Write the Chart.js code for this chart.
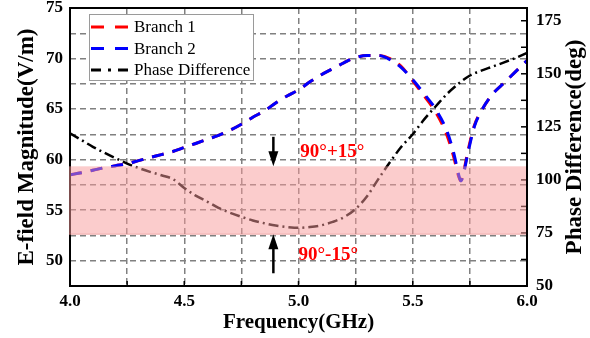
<!DOCTYPE html>
<html>
<head>
<meta charset="utf-8">
<script src="https://cdn.jsdelivr.net/npm/chart.js@4.4.0/dist/chart.umd.min.js"></script>
<style>
  html, body { margin: 0; padding: 0; background: #fff; }
</style>
</head>
<body>
<canvas id="c" width="590" height="338"></canvas>
<script>
// E-field data (left axis)
const freqE = [4.00, 4.05, 4.10, 4.15, 4.20, 4.25, 4.30, 4.35, 4.40, 4.45, 4.50, 4.55, 4.60, 4.65, 4.70,
  4.75, 4.80, 4.85, 4.90, 4.95, 5.00, 5.05, 5.10, 5.15, 5.20, 5.25, 5.30, 5.35, 5.40, 5.45, 5.50, 5.55,
  5.60, 5.65, 5.68, 5.70, 5.71, 5.72, 5.74, 5.77, 5.80, 5.85, 5.90, 5.95, 6.00];
const branch1 = [58.5, 58.7, 58.95, 59.2, 59.4, 59.6, 59.9, 60.2, 60.5, 60.8, 61.2, 61.6, 62.0, 62.4, 62.9,
  63.5, 64.2, 64.8, 65.6, 66.3, 66.9, 67.7, 68.4, 69.0, 69.6, 70.1, 70.3, 70.3, 70.0, 69.2, 67.8, 66.3,
  64.7, 62.4, 60.2, 58.4, 57.9, 58.5, 60.7, 63.4, 64.8, 66.5, 67.6, 68.7, 69.8];
const branch2 = [58.5, 58.7, 58.95, 59.2, 59.4, 59.6, 59.9, 60.2, 60.5, 60.8, 61.2, 61.6, 62.0, 62.4, 62.9,
  63.5, 64.2, 64.8, 65.6, 66.3, 66.9, 67.7, 68.4, 69.0, 69.6, 70.1, 70.3, 70.3, 69.9, 69.1, 67.9, 66.5,
  65.0, 62.8, 60.6, 58.6, 57.9, 58.4, 60.5, 63.3, 64.8, 66.5, 67.6, 68.7, 69.8];

// phase difference (right axis)
const freqP = [4.00, 4.05, 4.10, 4.15, 4.20, 4.25, 4.30, 4.35, 4.40, 4.45, 4.50, 4.55, 4.60, 4.65, 4.70,
  4.75, 4.80, 4.85, 4.90, 4.95, 5.00, 5.05, 5.10, 5.15, 5.20, 5.25, 5.30, 5.35, 5.40, 5.45, 5.50, 5.55,
  5.60, 5.65, 5.70, 5.75, 5.80, 5.85, 5.90, 5.95, 6.00];
const phase = [122.0, 118.8, 115.6, 112.8, 110.2, 107.7, 105.6, 103.8, 102.2, 100.4, 96.2, 92.6, 89.8, 86.8, 84.5,
  82.6, 80.9, 79.6, 78.5, 77.8, 77.4, 77.8, 78.6, 80.2, 82.5, 86.3, 92.3, 100.5, 108.3, 115.6, 121.5, 128.5,
  134.6, 140.5, 145.3, 149.2, 151.5, 153.4, 155.4, 157.5, 159.8];

// shaded 90 +/- 15 deg region as drawn, and the labels that mark it
const bandPhase = [74.4, 106.4];
const bandLabels = ['90°+15°', '90°-15°'];

const serif = 'Liberation Serif, Times New Roman, serif';
const toPts = (xs, ys) => xs.map((f, i) => ({x: f, y: ys[i]}));

const overlay = {
    id: 'overlay',
    afterDatasetsDraw(chart) {
        const {ctx, chartArea: a, scales} = chart;
        const x = scales.x, y2 = scales.y2;
        const line = (x1, y1, x2, y2_) => {
            ctx.beginPath(); ctx.moveTo(x1, y1); ctx.lineTo(x2, y2_); ctx.stroke();
        };
        ctx.save();

        // frame + inward ticks
        ctx.strokeStyle = '#000';
        ctx.lineWidth = 2;
        ctx.strokeRect(a.left, a.top, a.right - a.left, a.bottom - a.top);
        ctx.lineWidth = 1.5;
        x.ticks.forEach(t => {
            const px = x.getPixelForValue(t.value);
            line(px, a.bottom, px, a.bottom - 5);
        });
        y2.ticks.forEach(t => {
            const py = y2.getPixelForValue(t.value);
            line(a.right, py, a.right - 6, py);
        });

        // band
        const yTop = y2.getPixelForValue(bandPhase[1]);
        const yBot = y2.getPixelForValue(bandPhase[0]);
        ctx.fillStyle = 'rgba(247,153,153,0.5)';
        ctx.fillRect(a.left - 1, yTop, a.right - a.left, yBot - yTop);
        ctx.strokeStyle = 'rgba(225,130,130,0.6)';
        ctx.lineWidth = 1;
        line(a.left - 1, yBot, a.right - 1, yBot);

        // arrows
        const ax = x.getPixelForValue(4.89);
        const arrow = (yFrom, yTip) => {
            const dir = yTip > yFrom ? 1 : -1;
            ctx.strokeStyle = '#000';
            ctx.fillStyle = '#000';
            ctx.lineWidth = 2.5;
            line(ax, yFrom, ax, yTip - dir * 12);
            ctx.beginPath();
            ctx.moveTo(ax, yTip);
            ctx.lineTo(ax - 5, yTip - dir * 15);
            ctx.lineTo(ax + 5, yTip - dir * 15);
            ctx.closePath();
            ctx.fill();
        };
        arrow(y2.getPixelForValue(120.3), yTop);
        arrow(y2.getPixelForValue(56.0), yBot);

        ctx.fillStyle = '#ff0000';
        ctx.font = 'bold 19px ' + serif;
        ctx.textAlign = 'left';
        ctx.textBaseline = 'middle';
        ctx.fillText(bandLabels[0], x.getPixelForValue(5.008), y2.getPixelForValue(113.0));
        ctx.fillText(bandLabels[1], x.getPixelForValue(5.0), y2.getPixelForValue(64.5));

        // legend
        const lx = a.left + 19, ly = a.top + 6, lw = 164, lh = 66;
        ctx.fillStyle = '#fff';
        ctx.fillRect(lx, ly, lw, lh);
        ctx.strokeStyle = '#9a9a9a';
        ctx.lineWidth = 1;
        ctx.strokeRect(lx + 0.5, ly + 0.5, lw, lh);
        const entries = [
            {label: 'Branch 1', color: '#ff0000', dash: [13, 11]},
            {label: 'Branch 2', color: '#0000ff', dash: [13, 11]},
            {label: 'Phase Difference', color: '#000000', dash: [10, 7, 3, 7]}
        ];
        ctx.font = '17px ' + serif;
        entries.forEach((e, i) => {
            const ry = ly + 13 + i * 21.5;
            ctx.strokeStyle = e.color;
            ctx.lineWidth = 3;
            ctx.setLineDash(e.dash);
            line(lx + 2, ry, lx + 40, ry);
            ctx.setLineDash([]);
            ctx.fillStyle = '#000';
            ctx.fillText(e.label, lx + 45, ry + 1);
        });

        // right axis title, reading bottom to top
        ctx.translate(575, (a.top + a.bottom) / 2);
        ctx.rotate(-Math.PI / 2);
        ctx.textAlign = 'center';
        ctx.font = 'bold 23px ' + serif;
        ctx.fillText('Phase Difference(deg)', 0, 0);
        ctx.restore();
    }
};

const gridOpts = {color: '#808080', lineWidth: 1.5, drawTicks: false};
const tickFont = {family: serif, size: 17, weight: 'bold'};

new Chart(document.getElementById('c').getContext('2d'), {
    type: 'line',
    data: {
        datasets: [
            {
                label: 'Branch 1',
                data: toPts(freqE, branch1),
                yAxisID: 'y',
                borderColor: '#ff0000',
                borderWidth: 3,
                borderDash: [12, 9],
                order: 2
            },
            {
                label: 'Branch 2',
                data: toPts(freqE, branch2),
                yAxisID: 'y',
                borderColor: '#0000ff',
                borderWidth: 3,
                borderDash: [12, 9],
                order: 1
            },
            {
                label: 'Phase Difference',
                data: toPts(freqP, phase),
                yAxisID: 'y2',
                borderColor: '#000000',
                borderWidth: 2.5,
                borderDash: [10, 4, 2, 4],
                order: 0
            }
        ]
    },
    options: {
        responsive: false,
        animation: false,
        layout: {padding: {top: 8, left: 0, right: 0, bottom: 0}},
        elements: {
            point: {radius: 0},
            line: {cubicInterpolationMode: 'monotone', fill: false}
        },
        plugins: {
            legend: {display: false},
            tooltip: {enabled: false}
        },
        scales: {
            x: {
                type: 'linear',
                min: 4,
                max: 6,
                grid: gridOpts,
                border: {display: false, dash: [6, 4]},
                ticks: {
                    stepSize: 0.25,
                    autoSkip: false,
                    maxRotation: 0,
                    padding: 5,
                    color: '#000',
                    font: tickFont,
                    callback: v => Math.abs(v * 2 - Math.round(v * 2)) < 1e-6 ? v.toFixed(1) : ''
                },
                title: {display: true, text: 'Frequency(GHz)', color: '#000',
                    font: {family: serif, size: 21, weight: 'bold'},
                    padding: {top: 0, bottom: 3}},
                afterFit: s => { s.height = 52; s.paddingLeft = 0; s.paddingRight = 0; }
            },
            y: {
                position: 'left',
                min: 47.5,
                max: 75,
                grid: gridOpts,
                border: {display: false, dash: [6, 4]},
                ticks: {
                    stepSize: 2.5,
                    autoSkip: false,
                    padding: 7,
                    color: '#000',
                    font: tickFont,
                    callback: v => v % 5 === 0 ? v : ''
                },
                title: {display: true, text: 'E-field Magnitude(V/m)', color: '#000',
                    font: {family: serif, size: 23, weight: 'bold'},
                    padding: {top: 13, bottom: 0}},
                afterFit: s => { s.width = 70; s.paddingTop = 0; s.paddingBottom = 0; }
            },
            y2: {
                position: 'right',
                min: 50,
                max: 181,
                grid: {drawOnChartArea: false, drawTicks: false},
                border: {display: false},
                ticks: {
                    stepSize: 12.5,
                    includeBounds: false,
                    autoSkip: false,
                    padding: 9,
                    color: '#000',
                    font: tickFont,
                    callback: v => v % 25 === 0 ? v : ''
                },
                afterFit: s => { s.width = 63; s.paddingTop = 0; s.paddingBottom = 0; }
            }
        }
    },
    plugins: [overlay]
});
</script>
</body>
</html>
